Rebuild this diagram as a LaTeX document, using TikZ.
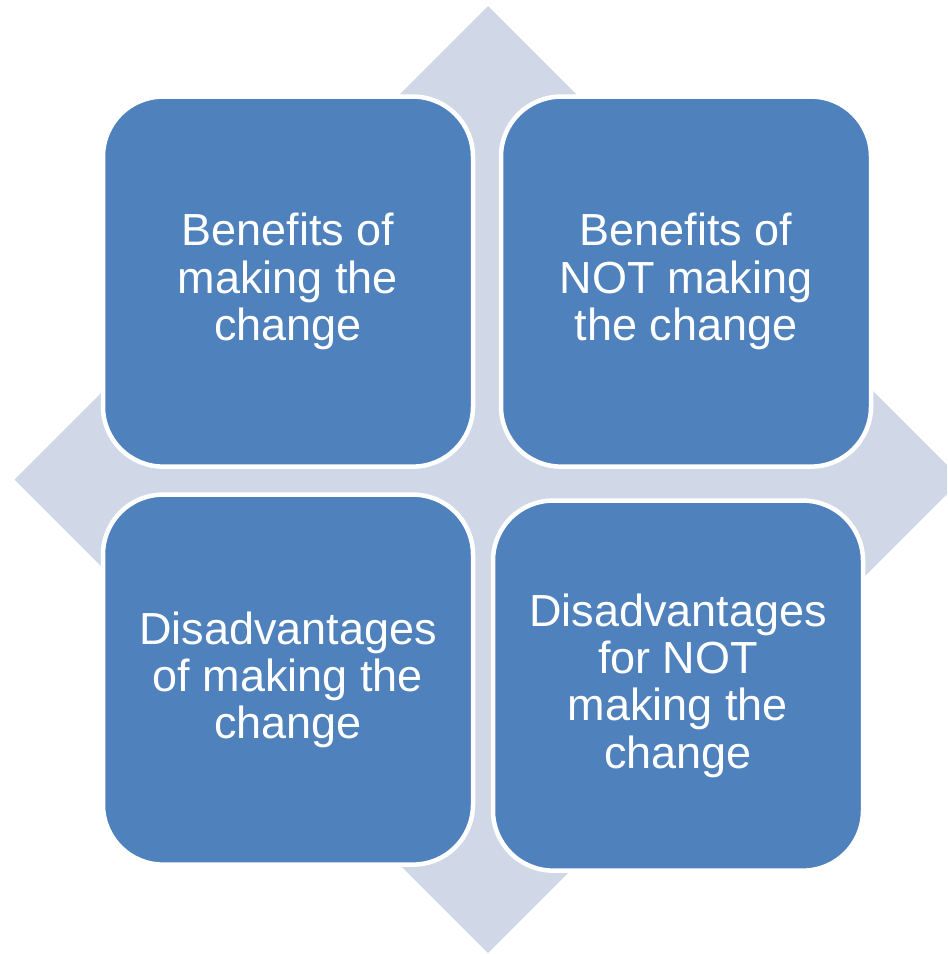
\documentclass[tikz,border=0pt]{standalone}
\usepackage{fontspec}
\setmainfont{Liberation Sans}
\usetikzlibrary{positioning}
\usetikzlibrary{calc}

\definecolor{boxblue}{RGB}{79,129,189}
\definecolor{backblue}{RGB}{208,216,232}

\begin{document}
\begin{tikzpicture}[
		box/.style={
			draw=white,
			line width=3.2pt,
			fill=boxblue,
			rounded corners=1.5cm,
			minimum width=9.25cm,
			minimum height=9.25cm,
			inner sep=0pt,
			outer sep=0pt,
			text=white,
			align=center,
			font=\fontsize{32}{33.6}\selectfont
		},
		backing/.style={fill=backblue}
		]
		
		\useasboundingbox (0,0) rectangle (23.675,-23.85);
		\clip (0,0) rectangle (23.675,-23.85);
		
		% diamond behind the four boxes
		\coordinate (mid) at (12.2,-11.99);
		\fill[backing] ($(mid)+(0,11.84)$) -- ($(mid)+(-11.84,0)$)
			-- ($(mid)+(0,-11.84)$) -- ($(mid)+(11.84,0)$) -- cycle;
		
		\node[box] (tl) at (7.2,-7.04) {Benefits of\\making the\\change};
		\node[box] (tr) [right=0.7cm of tl] {Benefits of\\NOT making\\the change};
		\node[box] (bl) [below=0.7cm of tl] {Disadvantages\\of making the\\change};
		\node[box] (br) [right=0.5cm of bl, yshift=-0.15cm] {Disadvantages\\for NOT\\making the\\change};
	\end{tikzpicture}
\end{document}
